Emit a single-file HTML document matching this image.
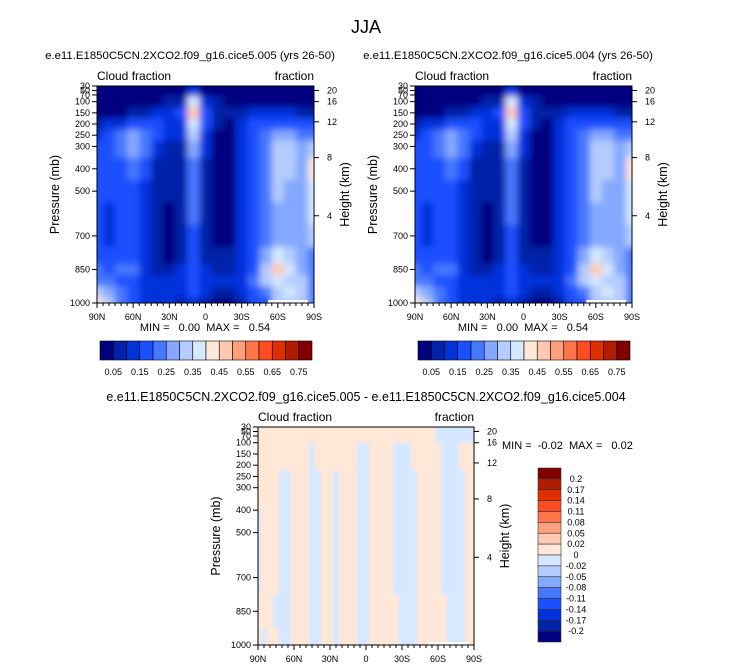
<!DOCTYPE html>
<html><head><meta charset="utf-8"><style>
body{margin:0;background:#fff;}
svg{display:block;font-family:"Liberation Sans",sans-serif;}
text{white-space:pre;}
</style></head><body>
<svg id="s" width="733" height="668" viewBox="0 0 733 668" xml:space="preserve">
<defs>
<filter id="bl" x="-5%" y="-5%" width="110%" height="110%"><feGaussianBlur stdDeviation="3.5"/></filter>
<filter id="bl2" x="-5%" y="-5%" width="110%" height="110%"><feGaussianBlur stdDeviation="1.5"/></filter>
<clipPath id="c1"><rect x="97" y="86" width="217" height="217"/></clipPath>
<clipPath id="c2"><rect x="415" y="86" width="217" height="217"/></clipPath>
<clipPath id="c3"><rect x="258" y="427" width="216" height="218"/></clipPath>
</defs>
<text x="366" y="33" font-size="18" text-anchor="middle">JJA</text>
<text x="190" y="59" font-size="11.4" text-anchor="middle">e.e11.E1850C5CN.2XCO2.f09_g16.cice5.005 (yrs 26-50)</text>
<text x="508" y="59" font-size="11.4" text-anchor="middle">e.e11.E1850C5CN.2XCO2.f09_g16.cice5.004 (yrs 26-50)</text>
<text x="366" y="401" font-size="12.5" text-anchor="middle">e.e11.E1850C5CN.2XCO2.f09_g16.cice5.005 - e.e11.E1850C5CN.2XCO2.f09_g16.cice5.004</text>
<g id="root"></g>
</svg>
<script>
const lats=[90,80,70,60,50,40,30,20,10,0,-10,-20,-30,-40,-50,-60,-70,-80,-90];
const pres=[50,100,150,200,250,300,400,500,600,700,800,850,900,950,1000];
const cloudFraction=[
[.02,.02,.03,.08,.12,.15,.15,.15,.15,.15,.17,.2,.22,.3,.4],
[.02,.02,.03,.1,.15,.17,.15,.15,.13,.12,.15,.17,.2,.25,.3],
[.02,.02,.04,.12,.2,.2,.17,.15,.15,.15,.17,.2,.17,.2,.2],
[.02,.02,.06,.15,.25,.25,.2,.15,.15,.15,.17,.2,.17,.15,.15],
[.02,.03,.08,.15,.22,.2,.15,.12,.12,.12,.12,.12,.12,.12,.12],
[.02,.04,.1,.15,.15,.12,.08,.07,.07,.07,.08,.08,.1,.12,.12],
[.02,.05,.12,.12,.1,.08,.06,.05,.04,.04,.04,.06,.1,.12,.1],
[.02,.08,.15,.12,.1,.08,.07,.07,.07,.07,.07,.1,.12,.12,.08],
[.1,.35,.47,.37,.3,.25,.22,.2,.2,.17,.17,.17,.17,.15,.1],
[.03,.1,.18,.15,.12,.1,.08,.07,.07,.07,.08,.1,.12,.1,.06],
[.02,.05,.07,.05,.04,.04,.04,.04,.04,.04,.06,.08,.1,.08,.04],
[.02,.03,.06,.04,.03,.03,.03,.03,.03,.04,.07,.08,.1,.08,.04],
[.02,.03,.08,.1,.1,.1,.1,.1,.1,.1,.1,.1,.12,.1,.08],
[.02,.03,.1,.15,.17,.15,.15,.15,.15,.15,.15,.17,.2,.17,.15],
[.02,.03,.1,.15,.2,.22,.22,.22,.22,.2,.25,.3,.3,.22,.18],
[.02,.03,.1,.17,.25,.3,.3,.3,.28,.28,.35,.47,.35,.3,.3],
[.02,.03,.1,.17,.25,.32,.3,.28,.28,.27,.3,.35,.3,.35,.3],
[.02,.03,.08,.15,.2,.25,.25,.25,.25,.25,.25,.25,.3,.3,.3],
[.02,.03,.06,.15,.2,.3,.4,.35,.35,.3,.2,.2,.2,.2,.2]];
const dLats=[90,85,80,75,70,65,60,55,50,45,40,35,30,25,20,15,10,5,0,-5,-10,-15,-20,-25,-30,-35,-40,-45,-50,-55,-60,-65,-70,-75,-80,-85,-90];
const dPres=[50,150,300,500,700,850,1000];
const diffRows=[
[.01,.01,.01,.01,.01,.01,.01,.01,.01,.01,.01,.01,.01,.01,.01,.01,.01,.01,.01,.01,.01,.01,.01,.01,.01,.01,.01,.01,.01,.01,-.01,-.01,-.01,-.01,-.01,-.01,-.01],
[.01,.01,.01,.01,.01,.01,.01,.01,.01,-.01,.01,.01,.01,.01,.01,.01,.01,-.01,-.01,.01,.01,.01,.01,-.01,-.01,-.01,.01,.01,.01,.01,.01,-.01,-.01,-.01,.01,.01,.01],
[.01,.01,.01,.01,-.01,-.01,.01,.01,.01,-.01,-.01,.01,.01,-.01,.01,.01,.01,-.01,-.01,.01,.01,.01,.01,-.01,-.01,-.01,-.01,.01,.01,.01,.01,-.01,-.01,-.01,-.01,.01,.01],
[-.01,.01,.01,.01,-.01,-.01,.01,.01,.01,-.01,-.01,.01,.01,-.01,.01,.01,.01,-.01,-.01,.01,.01,.01,.01,-.01,-.01,-.01,-.01,.01,.01,.01,.01,-.01,-.01,-.01,-.01,.01,.01],
[-.01,.01,.01,.01,-.01,-.01,.01,.01,.01,-.01,-.01,.01,.01,-.01,.01,.01,.01,-.01,-.01,.01,.01,.01,.01,-.01,-.01,-.01,-.01,.01,.01,.01,.01,-.01,-.01,-.01,-.01,.01,.01],
[.01,.01,.01,-.01,-.01,-.01,.01,.01,.01,-.01,-.01,.01,.01,-.01,.01,.01,.01,-.01,-.01,.01,.01,.01,.01,.01,-.01,-.01,-.01,.01,.01,.01,.01,.01,-.01,-.01,-.01,.01,.01],
[.01,-.01,.01,.01,-.01,-.01,.01,.01,.01,-.01,-.01,.01,.01,-.01,.01,.01,.01,-.01,-.01,.01,.01,.01,.01,.01,-.01,-.01,-.01,.01,.01,.01,.01,.01,-.01,-.01,-.01,.01,.01]];
const pTicks=[30,50,70,100,150,200,250,300,400,500,700,850,1000];
const hTicks=[20,16,12,8,4];
const hTickP=[50,100,190,350,610];
const latTicks=[90,60,30,0,-30,-60,-90];
const latLabels=["90N","60N","30N","0","30S","60S","90S"];
const topLevels=[.05,.1,.15,.2,.25,.3,.35,.4,.45,.5,.55,.6,.65,.7,.75];
const topLabels=["0.05","0.15","0.25","0.35","0.45","0.55","0.65","0.75"];
const diffLevels=[-.2,-.17,-.14,-.11,-.08,-.05,-.02,0,.02,.05,.08,.11,.14,.17,.2];
const colors=["#00007f","#0022a8","#0032dc","#1a50ff","#4678ff","#84a8ff","#b4ccff","#d6e8ff","#ffe8d8","#ffc8b0","#ffa07c","#ff7448","#ff4c20","#e02e00","#b01c00","#800000"];
const NS="http://www.w3.org/2000/svg";
const root=document.getElementById('root');
function mk(t,a,p){const e=document.createElementNS(NS,t);for(const k in a)e.setAttribute(k,a[k]);(p||root).appendChild(e);return e;}
function idx(v,lv){let i=0;for(const b of lv)if(v>=b)i++;return i;}
function txt(x,y,s,fs,anc,name,p){const e=mk('text',{x:x,y:y,'font-size':fs,'text-anchor':anc},p);e.textContent=s;return e;}
function panel(x0,y0,w,h,clip,la,pr,field,levels,blur,name){
  const X=l=>x0+(90-l)/180*w, Y=p=>y0+(p-30)/970*h;
  const g=mk('g',{'clip-path':'url(#'+clip+')'});
  
  const f=mk('g',{filter:'url(#'+blur+')'},g);
  for(let i=0;i<la.length;i++){
    const xa=i==0?X(la[0])-10:(X(la[i-1])+X(la[i]))/2, xb=i==la.length-1?X(la[i])+10:(X(la[i])+X(la[i+1]))/2;
    for(let j=0;j<pr.length;j++){
      const ya=j==0?Y(30)-10:(Y(pr[j-1])+Y(pr[j]))/2, yb=j==pr.length-1?Y(pr[j])+10:(Y(pr[j])+Y(pr[j+1]))/2;
      const r=mk('rect',{x:xa,y:ya,width:xb-xa+0.5,height:yb-ya+0.5,fill:colors[idx(field(i,j),levels)]},f);
      
      
    }
  }
  const wr=mk('rect',{x:X(-52),y:y0+h-3,width:X(-85)-X(-52),height:4,fill:'#fff'},g);
  
  const ax=mk('rect',{x:x0,y:y0,width:w,height:h,fill:'none',stroke:'#000','stroke-width':1});
  
  pTicks.forEach(p=>{mk('line',{x1:x0-5,x2:x0,y1:Y(p),y2:Y(p),stroke:'#000'});txt(x0-7,Y(p)+3,String(p),9,'end','pressure-tick-label');});
  hTicks.forEach((hh,k)=>{mk('line',{x1:x0+w,x2:x0+w+5,y1:Y(hTickP[k]),y2:Y(hTickP[k]),stroke:'#000'});txt(x0+w+13,Y(hTickP[k])+3,String(hh),9,'start','height-tick-label');});
  for(let l=90;l>=-90;l-=5){mk('line',{x1:X(l),x2:X(l),y1:y0+h,y2:y0+h+(l%30==0?5:3),stroke:'#000'});}
  latTicks.forEach((l,k)=>txt(X(l),y0+h+17,latLabels[k],9,'middle','latitude-tick-label'));
  const yl=txt(0,0,'Pressure (mb)',12.5,'middle','y-axis-title');yl.setAttribute('transform','translate('+(x0-38)+','+(y0+h/2)+') rotate(-90)');
  const hl=txt(0,0,'Height (km)',12.5,'middle','right-axis-title');hl.setAttribute('transform','translate('+(x0+w+35)+','+(y0+h/2)+') rotate(-90)');
  txt(x0,y0-6,'Cloud fraction',12,'start','variable-label-left');
  txt(x0+w,y0-6,'fraction',12,'end','variable-label-right');
}
panel(97,86,217,217,'c1',lats,pres,(i,j)=>cloudFraction[i][j],topLevels,'bl','left-panel');
panel(415,86,217,217,'c2',lats,pres,(i,j)=>cloudFraction[i][j],topLevels,'bl','right-panel');
panel(258,427,216,218,'c3',dLats,dPres,(i,j)=>diffRows[j][i],diffLevels,'bl2','diff-panel');
txt(205,331,'MIN =   0.00  MAX =   0.54',11,'middle','left-min-max');
txt(523,331,'MIN =   0.00  MAX =   0.54',11,'middle','right-min-max');
txt(502,449,'MIN =  -0.02  MAX =   0.02',11,'start','diff-min-max');
function hbar(x0,y0,name){
  const bw=212/16;
  colors.forEach((c,i)=>{const r=mk('rect',{x:x0+i*bw,y:y0,width:bw,height:19,fill:c,stroke:'#000','stroke-width':0.6});});
  topLabels.forEach((s,k)=>txt(x0+(2*k+1)*bw,y0+34,s,9,'middle',name+'-label'));
}
hbar(100,341,'left-colorbar');
hbar(418,341,'right-colorbar');
const bh=174/16;
colors.slice().reverse().forEach((c,i)=>{const r=mk('rect',{x:538,y:468+i*bh,width:23,height:bh,fill:c,stroke:'#333','stroke-width':0.6});});
diffLevels.slice().reverse().forEach((v,k)=>txt(576,468+(k+1)*bh+3,String(v),9,'middle','diff-colorbar-label'));
</script>
</body></html>
